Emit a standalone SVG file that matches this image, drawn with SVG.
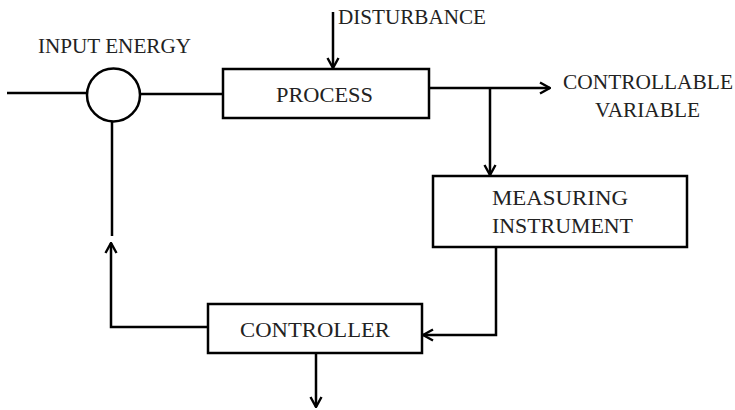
<svg xmlns="http://www.w3.org/2000/svg" width="735" height="410" viewBox="0 0 735 410">
<style>
.b{fill:#fff;stroke:#000;stroke-width:2.5}
.l{fill:none;stroke:#000;stroke-width:2.5}
.t{font-family:"Liberation Serif","Times New Roman",serif;font-size:21px;fill:#222}
</style>
<defs>
<marker id="a" viewBox="0 0 14 14" refX="13" refY="7" markerWidth="14" markerHeight="14" markerUnits="userSpaceOnUse" orient="auto">
<polyline points="3,1.5 13,7 3,12.5" fill="none" stroke="#000" stroke-width="2.4"/>
</marker>
</defs>
<rect width="735" height="410" fill="#fff"/>
<g id="connectors">
<line class="l" x1="7" y1="93" x2="88" y2="93"/>
<line class="l" x1="140" y1="94" x2="223" y2="94"/>
<line class="l" x1="333" y1="12" x2="333" y2="68" marker-end="url(#a)"/>
<line class="l" x1="429" y1="88" x2="550" y2="88" marker-end="url(#a)"/>
<line class="l" x1="490" y1="88" x2="490" y2="175" marker-end="url(#a)"/>
<polyline class="l" points="496,247 496,335 423,335" marker-end="url(#a)"/>
<polyline class="l" points="208,327 111,327 111,243" marker-end="url(#a)"/>
<line class="l" x1="112" y1="122" x2="112" y2="236"/>
<line class="l" x1="316" y1="353" x2="316" y2="407" marker-end="url(#a)"/>
</g>
<g id="input">
<text class="t" x="38" y="53" textLength="153" lengthAdjust="spacingAndGlyphs">INPUT ENERGY</text>
</g>
<g id="summing">
<circle class="b" cx="113.5" cy="95" r="26.5"/>
</g>
<g id="disturbance">
<text class="t" x="338" y="24" textLength="148" lengthAdjust="spacingAndGlyphs">DISTURBANCE</text>
</g>
<g id="process">
<rect class="b" x="223" y="69" width="206" height="49"/>
<text class="t" x="276" y="102" textLength="97" lengthAdjust="spacingAndGlyphs">PROCESS</text>
</g>
<g id="output">
<text class="t" x="563" y="89" textLength="170" lengthAdjust="spacingAndGlyphs">CONTROLLABLE</text>
<text class="t" x="595" y="117" textLength="105" lengthAdjust="spacingAndGlyphs">VARIABLE</text>
</g>
<g id="measuring">
<rect class="b" x="433" y="176" width="254" height="71"/>
<text class="t" x="492" y="205" textLength="136" lengthAdjust="spacingAndGlyphs">MEASURING</text>
<text class="t" x="492" y="233" textLength="141" lengthAdjust="spacingAndGlyphs">INSTRUMENT</text>
</g>
<g id="controller">
<rect class="b" x="208" y="304" width="214" height="49"/>
<text class="t" x="240" y="337" textLength="150" lengthAdjust="spacingAndGlyphs">CONTROLLER</text>
</g>
</svg>
